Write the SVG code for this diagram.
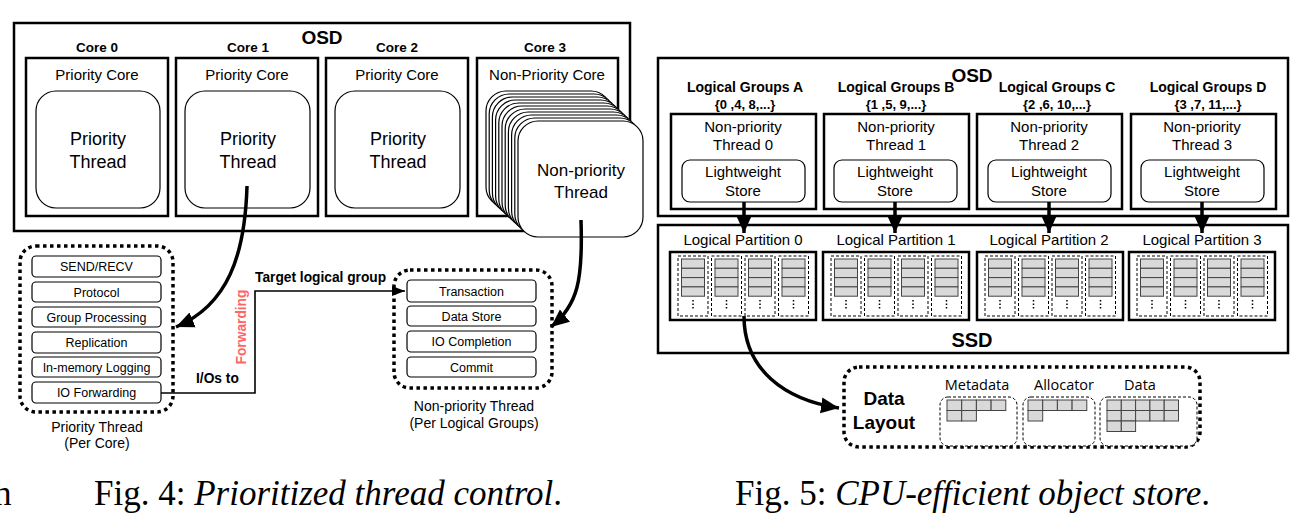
<svg xmlns="http://www.w3.org/2000/svg" width="1297" height="529" viewBox="0 0 1297 529">
<style>
text{font-family:"Liberation Sans",Arial,sans-serif;fill:#000}
.b{font-weight:bold}
.box{fill:#fff;stroke:#000;stroke-width:2.5}
.rr{fill:#fff;stroke:#000;stroke-width:1.2}
.item{fill:#fff;stroke:#000;stroke-width:1.2}
.dot{fill:none;stroke:#000;stroke-width:3.5;stroke-dasharray:3.5 3.5}
.thick{fill:none;stroke:#000;stroke-width:3.5}
.thin{fill:none;stroke:#000;stroke-width:1.6}
.cell{fill:#d9d9d9;stroke:#444;stroke-width:1}
.dash{fill:#fff;stroke:#000;stroke-width:1;stroke-dasharray:3 2}
.cap{font-family:"Liberation Serif","Times New Roman",serif;font-size:35px}
.cal{font-family:"Open Sans","Liberation Sans",sans-serif;font-size:14.5px}
</style>
<defs>
<marker id="big" markerUnits="userSpaceOnUse" markerWidth="20" markerHeight="20" viewBox="0 0 20 20" refX="18" refY="10" orient="auto">
<path d="M0,2 L18,10 L0,18 Z" fill="#000"/>
</marker>
<marker id="small" markerUnits="userSpaceOnUse" markerWidth="14" markerHeight="14" viewBox="0 0 14 14" refX="13" refY="7" orient="auto">
<path d="M0,2 L13,7 L0,12 Z" fill="#000"/>
</marker>
<g id="col">
<rect class="dash" x="0" y="0" width="30" height="60"/>
<rect class="cell" x="3.5" y="3" width="23" height="9.3"/>
<rect class="cell" x="3.5" y="12.3" width="23" height="9.3"/>
<rect class="cell" x="3.5" y="21.6" width="23" height="9.3"/>
<rect class="cell" x="3.5" y="30.9" width="23" height="9.3"/>
<line x1="15" y1="44" x2="15" y2="53" stroke="#000" stroke-width="1.5" stroke-dasharray="1.5 2"/>
</g>
<g id="part">
<rect class="box" x="0" y="0" width="146" height="68"/>
<use href="#col" x="8" y="4"/>
<use href="#col" x="41.5" y="4"/>
<use href="#col" x="75" y="4"/>
<use href="#col" x="108.5" y="4"/>
</g>
</defs>

<!-- ===== Fig 4 ===== -->
<g id="osd4">
<rect class="box" x="14" y="23" width="616" height="208"/>
<text class="b" x="322" y="44" font-size="19" text-anchor="middle">OSD</text>
</g>
<g id="core0">
<text class="b" x="97" y="52" font-size="13.5" text-anchor="middle">Core 0</text>
<rect class="box" x="26" y="58" width="142" height="158"/>
<text x="97" y="80" font-size="15" text-anchor="middle">Priority Core</text>
<rect class="rr" x="36" y="91" width="124" height="117" rx="20"/>
<text x="98" y="145" font-size="18" text-anchor="middle">Priority</text>
<text x="98" y="168" font-size="18" text-anchor="middle">Thread</text>
</g>
<g id="core1">
<text class="b" x="248" y="52" font-size="13.5" text-anchor="middle">Core 1</text>
<rect class="box" x="176" y="58" width="142" height="158"/>
<text x="247" y="80" font-size="15" text-anchor="middle">Priority Core</text>
<rect class="rr" x="185" y="91" width="125" height="117" rx="20"/>
<text x="248" y="145" font-size="18" text-anchor="middle">Priority</text>
<text x="248" y="168" font-size="18" text-anchor="middle">Thread</text>
</g>
<g id="core2">
<text class="b" x="397" y="52" font-size="13.5" text-anchor="middle">Core 2</text>
<rect class="box" x="326" y="58" width="142" height="158"/>
<text x="397" y="80" font-size="15" text-anchor="middle">Priority Core</text>
<rect class="rr" x="335" y="91" width="125" height="117" rx="20"/>
<text x="398" y="145" font-size="18" text-anchor="middle">Priority</text>
<text x="398" y="168" font-size="18" text-anchor="middle">Thread</text>
</g>
<g id="core3">
<text class="b" x="545" y="52" font-size="13.5" text-anchor="middle">Core 3</text>
<rect class="box" x="477" y="58" width="141" height="158"/>
<text x="547" y="80" font-size="15" text-anchor="middle">Non-Priority Core</text>
<rect class="rr" x="486" y="91" width="125" height="116" rx="20"/>
<rect class="rr" x="489.2" y="94" width="125" height="116" rx="20"/>
<rect class="rr" x="492.4" y="97" width="125" height="116" rx="20"/>
<rect class="rr" x="495.6" y="100" width="125" height="116" rx="20"/>
<rect class="rr" x="498.8" y="103" width="125" height="116" rx="20"/>
<rect class="rr" x="502" y="106" width="125" height="116" rx="20"/>
<rect class="rr" x="505.2" y="109" width="125" height="116" rx="20"/>
<rect class="rr" x="508.4" y="112" width="125" height="116" rx="20"/>
<rect class="rr" x="511.6" y="115" width="125" height="116" rx="20"/>
<rect class="rr" x="514.8" y="118" width="125" height="116" rx="20"/>
<rect class="rr" x="518" y="121" width="125" height="116" rx="20"/>
<text x="581" y="176" font-size="17" text-anchor="middle">Non-priority</text>
<text x="581" y="198" font-size="17" text-anchor="middle">Thread</text>
</g>

<g id="prio-thread">
<rect class="dot" x="20" y="246" width="153" height="166" rx="16"/>
<rect class="item" x="32" y="256" width="129" height="21" rx="4"/>
<text x="96.5" y="271" font-size="12.5" text-anchor="middle">SEND/RECV</text>
<rect class="item" x="32" y="282" width="129" height="20" rx="4"/>
<text x="96.5" y="296.5" font-size="12.5" text-anchor="middle">Protocol</text>
<rect class="item" x="32" y="307" width="129" height="20" rx="4"/>
<text x="96.5" y="321.5" font-size="12.5" text-anchor="middle">Group Processing</text>
<rect class="item" x="32" y="332" width="129" height="21" rx="4"/>
<text x="96.5" y="347" font-size="12.5" text-anchor="middle">Replication</text>
<rect class="item" x="32" y="357" width="129" height="20" rx="4"/>
<text x="96.5" y="371.5" font-size="12.5" text-anchor="middle">In-memory Logging</text>
<rect class="item" x="32" y="382" width="129" height="21" rx="4"/>
<text x="96.5" y="397" font-size="12.5" text-anchor="middle">IO Forwarding</text>
<text x="97" y="432" font-size="14" text-anchor="middle">Priority Thread</text>
<text x="97" y="448" font-size="14" text-anchor="middle">(Per Core)</text>
</g>

<g id="nonprio-thread">
<rect class="dot" x="394" y="270" width="158" height="118" rx="16"/>
<rect class="item" x="407" y="280" width="129" height="22" rx="4"/>
<text x="471.5" y="295.5" font-size="12.5" text-anchor="middle">Transaction</text>
<rect class="item" x="407" y="306" width="129" height="20" rx="4"/>
<text x="471.5" y="320.5" font-size="12.5" text-anchor="middle">Data Store</text>
<rect class="item" x="407" y="331" width="129" height="21" rx="4"/>
<text x="471.5" y="346" font-size="12.5" text-anchor="middle">IO Completion</text>
<rect class="item" x="407" y="357" width="129" height="20" rx="4"/>
<text x="471.5" y="371.5" font-size="12.5" text-anchor="middle">Commit</text>
<text x="474" y="411" font-size="14" text-anchor="middle">Non-priority Thread</text>
<text x="474" y="428" font-size="14" text-anchor="middle">(Per Logical Groups)</text>
</g>

<g id="connectors4">
<path class="thick" d="M247,186 C245,255 228,305 176,327" marker-end="url(#big)"/>
<path class="thick" d="M581,220 C583,280 578,305 551,327" marker-end="url(#big)"/>
<polyline class="thin" points="161,393 255,393 255,291 405,291" marker-end="url(#small)"/>
<text class="b" x="255" y="282" font-size="13.75">Target logical group</text>
<text class="b" x="196" y="383" font-size="13.75">I/Os to</text>
<text class="b" x="0" y="0" font-size="13.75" style="fill:#ff6666" text-anchor="middle" transform="translate(246,327) rotate(-90)">Forwarding</text>
</g>

<text class="cap" x="-6" y="505">h</text>
<text class="cap" x="94" y="505">Fig. 4: <tspan font-style="italic">Prioritized thread control</tspan>.</text>

<!-- ===== Fig 5 ===== -->
<g id="osd5">
<rect class="box" x="658" y="58" width="630" height="158"/>
<text class="b" x="972" y="82" font-size="19" text-anchor="middle">OSD</text>
</g>
<g id="group-a">
<text class="b" x="745" y="92" font-size="14" text-anchor="middle">Logical Groups A</text>
<text class="b" x="745" y="109" font-size="13" text-anchor="middle">{0 ,4, 8,...}</text>
<rect class="box" x="671" y="114" width="145" height="95"/>
<text x="743" y="132" font-size="15" text-anchor="middle">Non-priority</text>
<text x="743" y="150" font-size="15" text-anchor="middle">Thread 0</text>
<rect class="rr" x="682" y="160" width="123" height="42" rx="8"/>
<text x="743" y="177" font-size="15" text-anchor="middle">Lightweight</text>
<text x="743" y="196" font-size="15" text-anchor="middle">Store</text>
</g>
<g id="group-b">
<text class="b" x="896" y="92" font-size="14" text-anchor="middle">Logical Groups B</text>
<text class="b" x="896" y="109" font-size="13" text-anchor="middle">{1 ,5, 9,...}</text>
<rect class="box" x="824" y="114" width="145" height="95"/>
<text x="896" y="132" font-size="15" text-anchor="middle">Non-priority</text>
<text x="896" y="150" font-size="15" text-anchor="middle">Thread 1</text>
<rect class="rr" x="834" y="160" width="123" height="42" rx="8"/>
<text x="895" y="177" font-size="15" text-anchor="middle">Lightweight</text>
<text x="895" y="196" font-size="15" text-anchor="middle">Store</text>
</g>
<g id="group-c">
<text class="b" x="1057" y="92" font-size="14" text-anchor="middle">Logical Groups C</text>
<text class="b" x="1057" y="109" font-size="13" text-anchor="middle">{2 ,6, 10,...}</text>
<rect class="box" x="977" y="114" width="145" height="95"/>
<text x="1049" y="132" font-size="15" text-anchor="middle">Non-priority</text>
<text x="1049" y="150" font-size="15" text-anchor="middle">Thread 2</text>
<rect class="rr" x="988" y="160" width="123" height="42" rx="8"/>
<text x="1049" y="177" font-size="15" text-anchor="middle">Lightweight</text>
<text x="1049" y="196" font-size="15" text-anchor="middle">Store</text>
</g>
<g id="group-d">
<text class="b" x="1208" y="92" font-size="14" text-anchor="middle">Logical Groups D</text>
<text class="b" x="1208" y="109" font-size="13" text-anchor="middle">{3 ,7, 11,...}</text>
<rect class="box" x="1131" y="114" width="145" height="95"/>
<text x="1202" y="132" font-size="15" text-anchor="middle">Non-priority</text>
<text x="1202" y="150" font-size="15" text-anchor="middle">Thread 3</text>
<rect class="rr" x="1141" y="160" width="123" height="42" rx="8"/>
<text x="1202" y="177" font-size="15" text-anchor="middle">Lightweight</text>
<text x="1202" y="196" font-size="15" text-anchor="middle">Store</text>
</g>

<g id="ssd">
<rect class="box" x="658" y="225" width="630" height="128"/>
<text class="b" x="972" y="347" font-size="20" text-anchor="middle">SSD</text>
</g>
<g id="partition-0">
<text x="743" y="245" font-size="15" text-anchor="middle">Logical Partition 0</text>
<use href="#part" x="670" y="252"/>
</g>
<g id="partition-1">
<text x="896" y="245" font-size="15" text-anchor="middle">Logical Partition 1</text>
<use href="#part" x="823" y="252"/>
</g>
<g id="partition-2">
<text x="1049" y="245" font-size="15" text-anchor="middle">Logical Partition 2</text>
<use href="#part" x="977" y="252"/>
</g>
<g id="partition-3">
<text x="1202" y="245" font-size="15" text-anchor="middle">Logical Partition 3</text>
<use href="#part" x="1129" y="252"/>
</g>

<g id="data-layout">
<rect class="dot" x="844" y="367" width="356" height="80" rx="15"/>
<text class="b" x="884" y="405" font-size="19" text-anchor="middle">Data</text>
<text class="b" x="884" y="429" font-size="19" text-anchor="middle">Layout</text>
<text class="cal" x="977" y="390" text-anchor="middle">Metadata</text>
<rect class="dash" x="940" y="397" width="77" height="49" rx="8"/>
<rect class="cell" x="947" y="400" width="14.7" height="10.5"/>
<rect class="cell" x="961.7" y="400" width="14.7" height="10.5"/>
<rect class="cell" x="976.4" y="400" width="14.7" height="10.5"/>
<rect class="cell" x="991.1" y="400" width="14.7" height="10.5"/>
<rect class="cell" x="947" y="410.5" width="14.7" height="10.5"/>
<rect class="cell" x="961.7" y="410.5" width="14.7" height="10.5"/>
<text class="cal" x="1064" y="390" text-anchor="middle">Allocator</text>
<rect class="dash" x="1023" y="397" width="72" height="49" rx="8"/>
<rect class="cell" x="1028" y="400" width="14.7" height="10.5"/>
<rect class="cell" x="1042.7" y="400" width="14.7" height="10.5"/>
<rect class="cell" x="1057.4" y="400" width="14.7" height="10.5"/>
<rect class="cell" x="1072.1" y="400" width="14.7" height="10.5"/>
<rect class="cell" x="1028" y="410.5" width="14.7" height="10.5"/>
<text class="cal" x="1140" y="390" text-anchor="middle">Data</text>
<rect class="dash" x="1100" y="397" width="97" height="49" rx="8"/>
<rect class="cell" x="1107" y="400" width="14.3" height="10.5"/>
<rect class="cell" x="1121.3" y="400" width="14.3" height="10.5"/>
<rect class="cell" x="1135.6" y="400" width="14.3" height="10.5"/>
<rect class="cell" x="1149.9" y="400" width="14.3" height="10.5"/>
<rect class="cell" x="1164.2" y="400" width="14.3" height="10.5"/>
<rect class="cell" x="1107" y="410.5" width="14.3" height="10.5"/>
<rect class="cell" x="1121.3" y="410.5" width="14.3" height="10.5"/>
<rect class="cell" x="1135.6" y="410.5" width="14.3" height="10.5"/>
<rect class="cell" x="1149.9" y="410.5" width="14.3" height="10.5"/>
<rect class="cell" x="1164.2" y="410.5" width="14.3" height="10.5"/>
<rect class="cell" x="1107" y="421" width="14.3" height="10.5"/>
<rect class="cell" x="1121.3" y="421" width="14.3" height="10.5"/>
</g>

<g id="connectors5">
<line class="thick" x1="744" y1="202" x2="744" y2="233" marker-end="url(#big)"/>
<line class="thick" x1="895" y1="202" x2="895" y2="233" marker-end="url(#big)"/>
<line class="thick" x1="1049" y1="202" x2="1049" y2="233" marker-end="url(#big)"/>
<line class="thick" x1="1202" y1="202" x2="1202" y2="233" marker-end="url(#big)"/>
<path class="thick" d="M744,316 C744,370 785,400 839,408" marker-end="url(#big)"/>
</g>

<text class="cap" x="735" y="505">Fig. 5: <tspan font-style="italic">CPU-efficient object store</tspan>.</text>
</svg>
